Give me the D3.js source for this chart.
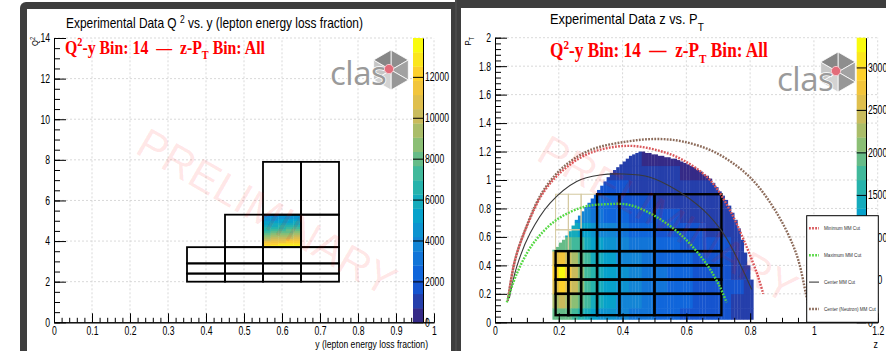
<!DOCTYPE html>
<html><head><meta charset="utf-8">
<script src="https://cdn.jsdelivr.net/npm/d3@7"></script>
<style>
html,body{margin:0;padding:0;background:#fff;}
svg{display:block;}
</style></head><body>
<svg id="c" width="886" height="351"></svg>
<script>
// ---------------- data ----------------
// Q2-y binning: [yLo, yHi, Q2Lo, Q2Hi], numbered 1..17 in this order
const q2yBins = [
  [0.35,0.45,2.0,2.4],[0.45,0.55,2.0,2.4],[0.55,0.65,2.0,2.4],[0.65,0.75,2.0,2.4],
  [0.35,0.45,2.4,2.9],[0.45,0.55,2.4,2.9],[0.55,0.65,2.4,2.9],[0.65,0.75,2.4,2.9],
  [0.35,0.45,2.9,3.7],[0.45,0.55,2.9,3.7],[0.55,0.65,2.9,3.7],[0.65,0.75,2.9,3.7],
  [0.45,0.55,3.7,5.3],[0.55,0.65,3.7,5.3],[0.65,0.75,3.7,5.3],
  [0.55,0.65,5.3,7.9],[0.65,0.75,5.3,7.9]
];
const selectedBin = 14;

// Q2 vs y counts inside the selected bin
const q2yCellY  = [0.55,0.57,0.59,0.61,0.63,0.65];
const q2yCellQ2 = [3.7,3.8,3.9,4.0,4.1,4.2,4.3,4.4,4.5,4.6,4.7,4.8,4.9,5.0,5.1,5.2,5.3];
const q2yCounts = [            // rows from low Q2 to high Q2
  [13000,13300,13500,13600,13700],
  [12200,12500,12700,12900,13100],
  [11200,11500,11800,12100,12300],
  [10300,10600,10900,11200,11500],
  [ 9500, 9800,10100,10400,10700],
  [ 8800, 9100, 9400, 9700, 9900],
  [ 8100, 8400, 8700, 9000, 9200],
  [ 7500, 7800, 8000, 8300, 8500],
  [ 6900, 7200, 7400, 7700, 7900],
  [ 6400, 6600, 6800, 7100, 7300],
  [ 5900, 6100, 6300, 6500, 6700],
  [ 5400, 5600, 5800, 6000, 6200],
  [ 5000, 5200, 5400, 5500, 5700],
  [ 4600, 4800, 4900, 5100, 5200],
  [ 4200, 4400, 4500, 4700, 4800],
  [ 3900, 4000, 4200, 4300, 4400]
];
const q2yZMax = 13900;
const q2yColorTicks = [0,2000,4000,6000,8000,10000,12000];

// z-PT binning for this Q2-y bin
const zBinEdges  = [0.19,0.23,0.27,0.32,0.39,0.50,0.71];
const ptBinEdges = [0.05,0.20,0.30,0.40,0.50,0.65,0.90];
const zptActive = [            // rows from low PT to high PT; 1 = bin in use
  [1,1,1,1,1,1],
  [1,1,1,1,1,1],
  [1,1,1,1,1,1],
  [1,1,1,1,1,1],
  [0,0,1,1,1,1],
  [0,0,0,1,1,1]
];

// z vs PT counts on a coarse grid
const zCellEdges  = [0.18,0.20,0.22,0.24,0.26,0.28,0.30,0.32,0.34,0.38,0.42,0.46,0.50,0.54,0.58,0.62,0.66,0.70,0.74,0.78,0.82];
const ptCellEdges = [0.0,0.1,0.2,0.3,0.4,0.5,0.6,0.7,0.8,0.9,1.0,1.1,1.2,1.3];
const zptCounts = [            // rows from low PT to high PT
  [1900,2000,1900,1800,1600,1400,1300,1150,1050, 900, 800, 700, 580, 520, 470, 430, 390, 350, 300, 240],
  [2300,2500,2300,2100,1900,1700,1500,1350,1200,1000, 900, 780, 650, 580, 520, 470, 430, 380, 330, 270],
  [2600,2900,2600,2400,2100,1800,1600,1400,1250,1050, 920, 800, 670, 600, 540, 490, 440, 390, 340, 270],
  [2900,3300,2700,2400,2100,1800,1600,1400,1250,1050, 920, 800, 670, 600, 540, 490, 440, 390, 330, 260],
  [2600,2800,2500,2200,2000,1700,1500,1350,1200,1000, 880, 760, 640, 570, 510, 460, 420, 370, 310, 240],
  [1900,2000,1900,1800,1700,1500,1300,1200,1050, 900, 780, 680, 570, 510, 460, 420, 380, 340, 290, 220],
  [1500,1600,1500,1400,1300,1200,1100, 950, 850, 720, 630, 560, 480, 430, 390, 360, 330, 300, 260, 200],
  [1100,1100,1100,1100,1000, 900, 800, 750, 650, 560, 500, 440, 390, 350, 320, 300, 280, 250, 220, 180],
  [ 800, 800, 800, 800, 750, 700, 650, 600, 520, 450, 400, 360, 320, 290, 270, 250, 230, 210, 190, 160],
  [ 500, 500, 500, 500, 480, 460, 450, 450, 400, 350, 320, 290, 260, 240, 220, 200, 180, 170, 160, 140],
  [ 350, 350, 350, 350, 330, 320, 310, 300, 300, 280, 250, 230, 200, 180, 160, 150, 140, 130, 120, 110],
  [ 250, 250, 250, 250, 240, 230, 220, 210, 200, 200, 180, 160, 140, 130, 120, 110, 100, 100, 100, 100],
  [ 150, 150, 150, 150, 150, 150, 150, 150, 150, 150, 150, 140, 120, 110, 100, 100, 100, 100, 100, 100]
];
// upper PT edge of the filled region, per 0.01 z column from z = 0.18 to 0.81
const zptFineStart = 0.18, zptFineStep = 0.01, zptPtLow = 0.02;
const zptTopEdge = [
  0.51,0.53,0.56,0.58,0.61,0.64,0.68,0.72,0.75,0.78,
  0.81,0.84,0.87,0.90,0.93,0.96,0.99,1.02,1.05,1.07,
  1.09,1.11,1.13,1.15,1.17,1.18,1.19,1.20,1.20,1.19,
  1.19,1.18,1.18,1.17,1.17,1.16,1.16,1.15,1.15,1.14,
  1.13,1.12,1.11,1.10,1.09,1.07,1.06,1.04,1.03,1.01,
  0.98,0.95,0.92,0.89,0.86,0.82,0.77,0.72,0.66,0.58,
  0.49,0.40,0.30
];
const zptZMax = 3350;
const zptColorTicks = [0,500,1000,1500,2000,2500,3000];

// missing-mass cut boundaries in (z, PT)
const mmMinimum = [[0.042,0.18],[0.063,0.44],[0.099,0.67],[0.151,0.91],[0.214,1.07],[0.298,1.19],[0.413,1.24],[0.507,1.21],[0.59,1.14],[0.674,1.0],[0.736,0.79],[0.789,0.53],[0.825,0.32],[0.841,0.2]];
const mmMaximum = [[0.037,0.14],[0.068,0.34],[0.12,0.555],[0.193,0.72],[0.277,0.81],[0.35,0.83],[0.423,0.824],[0.507,0.74],[0.59,0.60],[0.663,0.41],[0.705,0.25],[0.726,0.14]];
const mmCenter  = [[0.045,0.17],[0.068,0.39],[0.11,0.625],[0.172,0.836],[0.256,0.99],[0.329,1.035],[0.402,1.042],[0.486,1.02],[0.569,0.93],[0.653,0.79],[0.716,0.625],[0.768,0.41],[0.805,0.23]];
const mmNeutron = [[0.040,0.15],[0.062,0.43],[0.098,0.67],[0.150,0.92],[0.214,1.09],[0.298,1.21],[0.413,1.27],[0.507,1.288],[0.59,1.27],[0.694,1.19],[0.799,1.02],[0.883,0.77],[0.945,0.48],[0.975,0.2],[0.985,0.1]];
const legendLabels = ["Minimum MM Cut","Maximum MM Cut","Center MM Cut","Center (Neutron) MM Cut"];

const leftXTicks  = [0,0.1,0.2,0.3,0.4,0.5,0.6,0.7,0.8,0.9,1];
const leftYTicks  = [0,2,4,6,8,10,12,14];
const rightXTicks = [0,0.2,0.4,0.6,0.8,1,1.2];
const rightYTicks = [0,0.2,0.4,0.6,0.8,1,1.2,1.4,1.6,1.8,2];

// ---------------- drawing ----------------
const SANS = "Liberation Sans, Arial, Helvetica, sans-serif";
const SERIF = "Liberation Serif, Times New Roman, serif";
const svg = d3.select("#c").style("font-family", SANS);
svg.append("rect").attr("width",886).attr("height",351).attr("fill","#fff");

// palette (kBird), 20 contour levels
const bird = d3.scaleLinear()
  .domain([0,0.125,0.25,0.375,0.5,0.625,0.75,0.875,1])
  .range(["rgb(53,42,135)","rgb(15,92,221)","rgb(20,129,214)","rgb(6,164,202)","rgb(46,183,164)","rgb(135,191,119)","rgb(209,187,89)","rgb(254,200,50)","rgb(249,251,14)"]);
const NLEV = 20;
function levelColor(v, max){
  const k = Math.max(0, Math.min(NLEV-1, Math.floor(v/max*NLEV)));
  return bird(k/(NLEV-1));
}

// canvas frames
svg.append("rect").attr("x",20).attr("y",2).attr("width",445).attr("height",420).attr("rx",6).attr("fill","#3e3e3e");
svg.append("rect").attr("x",27).attr("y",9).attr("width",424).attr("height",420).attr("fill","#fff");
svg.append("rect").attr("x",455).attr("y",-10).attr("width",460).attr("height",440).attr("fill","#3e3e3e");
svg.append("rect").attr("x",461).attr("y",8).attr("width",440).attr("height",420).attr("fill","#fff");
svg.append("line").attr("x1",456).attr("x2",456).attr("y1",0).attr("y2",351).attr("stroke","#555").attr("stroke-width",1);

// text squeezed horizontally about its anchor
function sText(parent, x, y, opts, build){
  const g = parent.append("g").attr("transform",`translate(${x},${y})`);
  const t = g.append("text").attr("x",0).attr("y",0);
  if (opts.anchor) t.attr("text-anchor", opts.anchor);
  if (opts.size) t.style("font-size", opts.size + "px");
  if (opts.family) t.style("font-family", opts.family);
  if (opts.weight) t.style("font-weight", opts.weight);
  if (opts.fill) t.attr("fill", opts.fill);
  build(t);
  let k = opts.sx || 1;
  if (opts.width) k = opts.width / t.node().getComputedTextLength();
  g.attr("transform",`translate(${x},${y})${opts.rotate?` rotate(${opts.rotate})`:""} scale(${k},1)`);
  return t;
}
const SX = 0.72;

function drawPanel(cfg){
  const g = svg.append("g");
  const x = d3.scaleLinear(cfg.xDomain, cfg.xRange);
  const y = d3.scaleLinear(cfg.yDomain, cfg.yRange);
  const grid = g.append("g").attr("stroke","#cfcfcf").attr("stroke-width",0.8).attr("stroke-dasharray","2,2");
  cfg.xTicks.slice(1).forEach(v => grid.append("line").attr("x1",x(v)).attr("x2",x(v)).attr("y1",y(cfg.yDomain[0])).attr("y2",y(cfg.yDomain[1])));
  cfg.yTicks.slice(1).forEach(v => grid.append("line").attr("x1",x(cfg.xDomain[0])).attr("x2",x(cfg.xDomain[1])).attr("y1",y(v)).attr("y2",y(v)));
  return {g, x, y};
}

function drawAxes(p, cfg){
  const {g, x, y} = p;
  const fmt = v => String(+v.toFixed(2));
  const y0 = y(cfg.yDomain[0]), x0 = x(cfg.xDomain[0]);
  const bx = g.append("g").attr("transform",`translate(0,${y0})`)
    .call(d3.axisBottom(x).tickValues(cfg.xMinor).tickSize(-4.5).tickSizeOuter(0).tickFormat(""));
  const bxm = g.append("g").attr("transform",`translate(0,${y0})`)
    .call(d3.axisBottom(x).tickValues(cfg.xTicks).tickSize(-9).tickSizeOuter(0).tickPadding(4).tickFormat(fmt));
  const ly = g.append("g").attr("transform",`translate(${x0},0)`)
    .call(d3.axisLeft(y).tickValues(cfg.yMinor).tickSize(-6).tickSizeOuter(0).tickFormat(""));
  const lym = g.append("g").attr("transform",`translate(${x0},0)`)
    .call(d3.axisLeft(y).tickValues(cfg.yTicks).tickSize(-12).tickSizeOuter(0).tickFormat(fmt));
  [bx,bxm,ly,lym].forEach(a => {
    a.attr("font-family", null).attr("font-size", null);
    a.select(".domain").attr("stroke","#000").attr("stroke-width",1);
    a.selectAll(".tick line").attr("stroke","#000").attr("stroke-width",1);
    a.selectAll(".tick text").style("font-size","12px").attr("fill","#000");
  });
  bxm.selectAll(".tick text").attr("transform",`scale(${SX},1)`);
  lym.selectAll(".tick text").attr("x", -4/SX).attr("transform",`scale(${SX},1)`);
}

function drawColorBar(p, cfg){
  const c = d3.scaleLinear([0, cfg.zMax], [cfg.yRange[0], cfg.yRange[1]]);
  const bar = p.g.append("g");
  d3.range(NLEV).forEach(k => {
    const v0 = k*cfg.zMax/NLEV, v1 = (k+1)*cfg.zMax/NLEV;
    bar.append("rect").attr("x",cfg.x0).attr("width",cfg.x1-cfg.x0)
      .attr("y",c(v1)).attr("height",c(v0)-c(v1)+0.3).attr("fill",bird(k/(NLEV-1)));
  });
  const ax = bar.append("g").attr("transform",`translate(${cfg.x1},0)`)
    .call(d3.axisRight(c).tickValues(cfg.ticks).tickSize(-(cfg.x1-cfg.x0)).tickSizeOuter(0).tickPadding(2).tickFormat(d3.format("d")));
  ax.attr("font-family", null).attr("font-size", null);
  ax.select(".domain").attr("stroke","#000").attr("stroke-width",1);
  ax.selectAll(".tick line").attr("stroke","#000").attr("stroke-width",1);
  ax.selectAll(".tick text").style("font-size","12px").attr("fill","#000")
    .attr("x",2/SX).attr("transform",`scale(${SX},1)`);
}

function drawLogo(parent, tx, baseline, hx, hy){
  const g = parent.append("g");
  const r = 20;
  const v = d3.range(6).map(i => { const a = Math.PI/180*(60*i-90); return [hx + r*Math.cos(a), hy + r*Math.sin(a)]; });
  const shades = ["#8e8e8e","#a2a2a2","#979797","#d3d3d3","#c6c6c6","#868686"];
  d3.range(6).forEach(i => {
    g.append("path").attr("d", d3.line()([[hx,hy], v[i], v[(i+1)%6]]) + "Z")
      .attr("fill", shades[i]).attr("stroke","#fff").attr("stroke-width",0.8);
  });
  g.append("text").attr("x",tx).attr("y",baseline).style("font-family","Open Sans, sans-serif")
    .style("font-size","33px").attr("letter-spacing",-0.5).attr("fill","#9a9a9a")
    .attr("stroke","#fff").attr("stroke-width",1.5).attr("paint-order","stroke").text("clas");
  g.append("circle").attr("cx",hx-2).attr("cy",hy-1).attr("r",4.6).attr("fill","#e36c7a").attr("stroke","#f4c6cc").attr("stroke-width",1);
}

function redLabel(parent, x, y, size, width){
  sText(parent, x, y, {size, family:SERIF, weight:"bold", fill:"#ff0000", width}, t => {
    t.append("tspan").text("Q");
    t.append("tspan").attr("dy",-size*0.38).style("font-size",size*0.65+"px").text("2");
    t.append("tspan").attr("dy",size*0.38).text("-y Bin: " + selectedBin + "\u00a0\u00a0\u2014\u00a0\u00a0z-P");
    t.append("tspan").attr("dy",size*0.3).style("font-size",size*0.65+"px").text("T");
    t.append("tspan").attr("dy",-size*0.3).text(" Bin: All");
  });
}

function watermark(parent, cx, cy){
  parent.append("text").attr("transform",`translate(${cx},${cy}) rotate(30)`)
    .attr("text-anchor","middle").attr("dominant-baseline","central")
    .style("font-size","43px").attr("fill","#ff0000").attr("fill-opacity",0.1).text("PRELIMINARY");
}

// ============ left: Q2 vs y ============
const L = {xDomain:[0,1], xRange:[54,434], yDomain:[0,14], yRange:[322.3,38],
  xTicks:leftXTicks, yTicks:leftYTicks,
  xMinor:d3.range(0,1.0001,0.02), yMinor:d3.range(0,14.0001,0.5)};
const pL = drawPanel(L);

q2yCounts.forEach((row, j) => row.forEach((v, i) => {
  pL.g.append("rect")
    .attr("x", pL.x(q2yCellY[i])).attr("width", pL.x(q2yCellY[i+1]) - pL.x(q2yCellY[i]) + 0.3)
    .attr("y", pL.y(q2yCellQ2[j+1])).attr("height", pL.y(q2yCellQ2[j]) - pL.y(q2yCellQ2[j+1]) + 0.3)
    .attr("fill", levelColor(v, q2yZMax));
}));
q2yBins.forEach(b => {
  pL.g.append("rect").attr("x",pL.x(b[0])).attr("y",pL.y(b[3]))
    .attr("width",pL.x(b[1])-pL.x(b[0])).attr("height",pL.y(b[2])-pL.y(b[3]))
    .attr("fill","none").attr("stroke","#000").attr("stroke-width",1.8);
});
drawAxes(pL, L);
drawColorBar(pL, {zMax:q2yZMax, yRange:[322.3,38], x0:413, x1:423, ticks:q2yColorTicks});
drawLogo(svg, 330, 85, 391, 70);
redLabel(svg, 65, 53.5, 19, 200);

sText(svg, 66, 28, {size:14, width:297}, t => {
  t.append("tspan").text("Experimental Data Q ");
  t.append("tspan").attr("dy",-5).style("font-size","10px").text("2");
  t.append("tspan").attr("dy",5).text(" vs. y (lepton energy loss fraction)");
});
sText(svg, 428, 347.5, {size:11, anchor:"end", width:113}, t => t.text("y (lepton energy loss fraction)"));
sText(svg, 38, 37, {size:9, anchor:"end", rotate:-90, sx:0.85}, t => {
  t.append("tspan").text("Q");
  t.append("tspan").attr("dy",-3.5).style("font-size","6.5px").text("2");
});
watermark(svg, 267, 212);

// ============ right: z vs PT ============
const R = {xDomain:[0,1.2], xRange:[495,877.7], yDomain:[0,2], yRange:[322.3,37.7],
  xTicks:rightXTicks, yTicks:rightYTicks,
  xMinor:d3.range(0,1.2001,0.05), yMinor:d3.range(0,2.0001,0.04)};
const pR = drawPanel(R);

// filled region: 0.01-wide z columns cut at the upper edge, coloured from the coarse grid
const heat = pR.g.append("g");
zptTopEdge.forEach((top, i) => {
  const z0 = zptFineStart + i*zptFineStep, z1 = z0 + zptFineStep, zm = (z0+z1)/2;
  const c = d3.bisectRight(zCellEdges, zm) - 1;
  for (let r = 0; r < ptCellEdges.length-1; r++){
    const lo = Math.max(ptCellEdges[r], zptPtLow), hi = Math.min(ptCellEdges[r+1], top);
    if (hi <= lo) continue;
    const v = zptCounts[r][c];
    if (!v) continue;
    heat.append("rect").attr("x",pR.x(z0)).attr("width",pR.x(z1)-pR.x(z0)+0.3)
      .attr("y",pR.y(hi)).attr("height",pR.y(lo)-pR.y(hi)+0.3).attr("fill",levelColor(v, zptZMax));
  }
});

// z-PT bin outlines: unused bins (thin, tan) first, then used bins (black)
const zptCells = [];
zptActive.forEach((row, j) => row.forEach((a, i) => zptCells.push({a, z0:zBinEdges[i], z1:zBinEdges[i+1], p0:ptBinEdges[j], p1:ptBinEdges[j+1]})));
[0,1].forEach(state => zptCells.filter(d => d.a === state).forEach(d => {
  pR.g.append("rect").attr("x",pR.x(d.z0)).attr("y",pR.y(d.p1))
    .attr("width",pR.x(d.z1)-pR.x(d.z0)).attr("height",pR.y(d.p0)-pR.y(d.p1))
    .attr("fill","none").attr("stroke", state ? "#000" : "#d4c9a0").attr("stroke-width", state ? 2.4 : 1);
}));

// missing-mass cut curves
const curve = d3.line().x(d => pR.x(d[0])).y(d => pR.y(d[1])).curve(d3.curveCatmullRom);
const mmStyles = [
  {data:mmMinimum, color:"#d9575a", dash:"1.8,1.3", w:2.4},
  {data:mmMaximum, color:"#55d843", dash:"1.8,1.3", w:2.4},
  {data:mmCenter,  color:"#3a3a3a", dash:null, w:1.1},
  {data:mmNeutron, color:"#8c6b5a", dash:"1.8,1.3", w:2.4}
];
[3,0,2,1].forEach(k => {
  const s = mmStyles[k];
  pR.g.append("path").attr("d", curve(s.data)).attr("fill","none")
    .attr("stroke", s.color).attr("stroke-width", s.w).attr("stroke-dasharray", s.dash);
});

drawAxes(pR, R);
drawColorBar(pR, {zMax:zptZMax, yRange:[322.3,37.7], x0:856.7, x1:866, ticks:zptColorTicks});

// legend
const lg = svg.append("g");
lg.append("rect").attr("x",806.7).attr("y",215.7).attr("width",71.6).attr("height",106.6)
  .attr("fill","#fff").attr("stroke","#000").attr("stroke-width",1);
const legendY = d3.scalePoint().domain(legendLabels).range([228.3,309]);
legendLabels.forEach((lab, k) => {
  const s = mmStyles[k], yy = legendY(lab);
  lg.append("line").attr("x1",809).attr("x2",819).attr("y1",yy).attr("y2",yy)
    .attr("stroke",s.color).attr("stroke-width",s.w).attr("stroke-dasharray",s.dash);
  lg.append("text").attr("x",824).attr("y",yy+1.5).style("font-size","4.6px").attr("fill","#333").text(lab);
});

drawLogo(svg, 777, 91, 838, 72);
redLabel(svg, 550, 57, 20.5, 218);
sText(svg, 550, 24, {size:14, width:154}, t => {
  t.append("tspan").text("Experimental Data z vs. P");
  t.append("tspan").attr("dy",7).style("font-size","11px").text("T");
});
sText(svg, 878, 347.5, {size:11, anchor:"end", sx:0.8}, t => t.text("z"));
sText(svg, 471, 37, {size:9, anchor:"end", rotate:-90, sx:0.85}, t => {
  t.append("tspan").text("P");
  t.append("tspan").attr("dy",3).style("font-size","6.5px").text("T");
});
watermark(svg, 668, 219);
</script>
</body></html>
